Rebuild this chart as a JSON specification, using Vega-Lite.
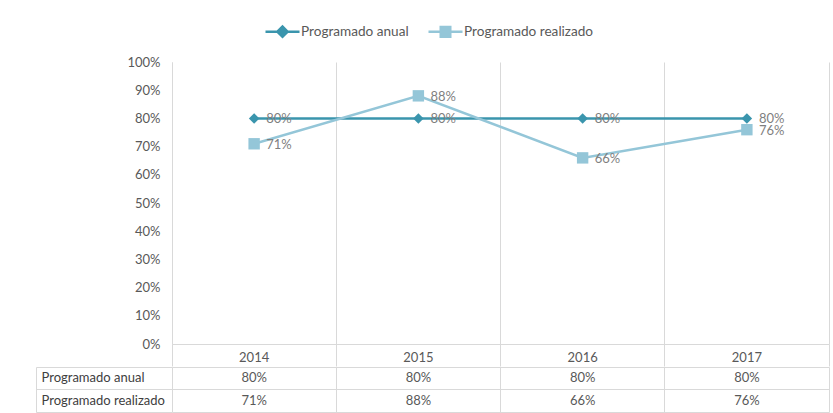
{
  "$schema": "https://vega.github.io/schema/vega-lite/v6.json",
  "padding": {"left": 35, "top": 13, "right": 5, "bottom": 1},
  "background": "white",
  "spacing": -7,
  "config": {
    "view": {"stroke": null},
    "font": "Lato",
    "axis": {"labelFont": "Lato", "labelFontSize": 13, "labelColor": "#595959", "gridColor": "#d9d9d9", "domainColor": "#d9d9d9", "tickColor": "#d9d9d9", "title": null},
    "legend": {"labelFont": "Lato"}
  },
  "datasets": {
    "d": [
      {"year": "2014", "series": "Programado anual", "value": 0.80},
      {"year": "2015", "series": "Programado anual", "value": 0.80},
      {"year": "2016", "series": "Programado anual", "value": 0.80},
      {"year": "2017", "series": "Programado anual", "value": 0.80},
      {"year": "2014", "series": "Programado realizado", "value": 0.71},
      {"year": "2015", "series": "Programado realizado", "value": 0.88},
      {"year": "2016", "series": "Programado realizado", "value": 0.66},
      {"year": "2017", "series": "Programado realizado", "value": 0.76}
    ]
  },
  "data": {"name": "d"},
  "vconcat": [
    {
      "width": 657,
      "height": 282,
      "encoding": {
        "x": {"field": "year", "type": "ordinal", "scale": {"type": "band", "paddingInner": 0, "paddingOuter": 0},
          "axis": {"orient": "bottom", "bandPosition": 1, "tickExtra": true, "grid": true, "ticks": true, "tickSize": 22, "domain": true, "labelPadding": -9, "labelBaseline": "middle", "labelAngle": 0}},
        "y": {"field": "value", "type": "quantitative", "scale": {"domain": [0, 1], "nice": false},
          "axis": {"values": [0, 0.1, 0.2, 0.3, 0.4, 0.5, 0.6, 0.7, 0.8, 0.9, 1], "format": ".0%", "grid": false, "ticks": false, "domain": true, "labelPadding": 12, "labelOverlap": false}},
        "color": {"field": "series", "type": "nominal",
          "scale": {"domain": ["Programado anual", "Programado realizado"], "range": ["#3a95ad", "#94c6d8"]},
          "legend": {"orient": "none", "legendX": 92, "legendY": -49, "direction": "horizontal", "title": null, "padding": 0,
            "symbolType": "M-1,0H1", "symbolSize": 1156, "symbolStrokeWidth": 2.5, "labelFontSize": 13.6, "labelColor": "#595959", "columnPadding": 14, "labelOffset": 0,
            "encode": {"symbols": {"update": {
              "shape": {"signal": "datum.value === 'Programado anual' ? 'M-1,0H1M-0.3,0L0,-0.3L0.3,0L0,0.3Z' : 'M-1,0H1M-0.28,-0.28H0.28V0.28H-0.28Z'"},
              "fill": {"scale": "color", "field": "value"},
              "stroke": {"scale": "color", "field": "value"},
              "size": {"value": 1156},
              "strokeWidth": {"value": 2.5}}}}}}
      },
      "layer": [
        {"mark": {"type": "line", "strokeWidth": 2.5}},
        {"transform": [{"filter": "datum.series === 'Programado anual'"}],
          "mark": {"type": "point", "filled": true, "opacity": 1, "shape": "diamond", "size": 110}},
        {"transform": [{"filter": "datum.series === 'Programado realizado'"}],
          "mark": {"type": "point", "filled": true, "opacity": 1, "shape": "square", "size": 130}},
        {"mark": {"type": "text", "align": "left", "dx": 12, "dy": 1, "fontSize": 13, "font": "Lato"},
          "encoding": {"text": {"field": "value", "type": "quantitative", "format": ".0%"}, "color": {"value": "#7f7f7f"}}}
      ]
    },
    {
      "width": 657,
      "height": 45,
      "encoding": {
        "x": {"field": "year", "type": "ordinal", "scale": {"type": "band", "paddingInner": 0, "paddingOuter": 0},
          "axis": {"orient": "bottom", "labels": false, "ticks": false, "domain": false, "grid": true, "bandPosition": 1, "tickExtra": true}}
      },
      "layer": [
        {"mark": {"type": "text", "fontSize": 13, "font": "Lato", "color": "#595959"},
          "encoding": {
            "y": {"field": "series", "type": "nominal", "sort": ["Programado anual", "Programado realizado"], "scale": {"type": "band", "paddingInner": 0, "paddingOuter": 0},
              "axis": {"orient": "left", "bandPosition": 1, "tickExtra": true, "grid": true, "ticks": true, "tickSize": 136, "domain": false, "labelAlign": "left", "labelPadding": -5, "labelBaseline": "middle", "labelColor": "#404040", "labelLimit": 200}},
            "text": {"field": "value", "type": "quantitative", "format": ".0%"}}},
        {"mark": {"type": "text", "opacity": 0},
          "encoding": {
            "y": {"field": "series", "type": "nominal", "sort": ["Programado anual", "Programado realizado"], "scale": {"type": "band", "paddingInner": 0, "paddingOuter": 0},
              "axis": {"orient": "left", "offset": 136, "labels": false, "ticks": false, "grid": false, "domain": true}},
            "text": {"field": "value", "type": "quantitative", "format": ".0%"}}}
      ],
      "resolve": {"axis": {"y": "independent"}}
    }
  ]
}
